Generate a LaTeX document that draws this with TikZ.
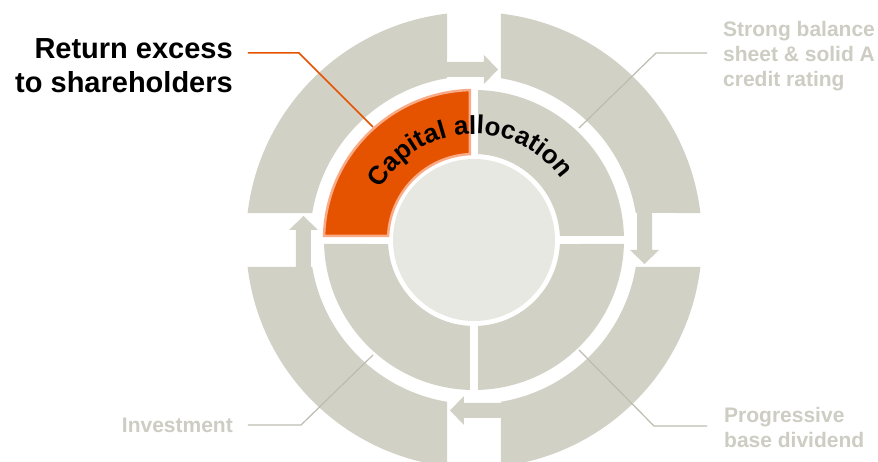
\documentclass[tikz,border=0pt]{standalone}
\usepackage{fontspec}
\setmainfont{Liberation Sans}
\usepackage{tikz}
\usetikzlibrary{decorations.text}
\definecolor{ringgray}{HTML}{D2D1C6}
\definecolor{labelgray}{HTML}{CDCDC3}
\definecolor{linegray}{HTML}{BDBCB1}
\definecolor{hubgray}{HTML}{E8E8E3}
\definecolor{caporange}{HTML}{E65300}
\definecolor{capedge}{HTML}{F8AB86}

\begin{document}
\begin{tikzpicture}[x=1pt, y=1pt, line join=miter]
      \tikzstyle{outer seg}=[fill=ringgray]
      \tikzstyle{inner seg}=[fill=ringgray]
      \tikzstyle{big label}=[inner sep=0pt, align=right, font=\fontsize{29}{34}\selectfont\bfseries]
      \tikzstyle{grey label}=[inner sep=0pt, align=left, text=labelgray, font=\fontsize{21}{25}\selectfont\bfseries]
      \tikzstyle{leader}=[draw=linegray, line width=1.2pt]
      \fill[white] (-474,-222) rectangle (404,240);
      \useasboundingbox (-474,-222) rectangle (404,240);
      \foreach \r in {0,-90,-180,-270}
        \fill[outer seg, rotate=\r] (173.2:228) arc[start angle=173.2, end angle=96.8, radius=228]
          -- (-27,178) -- (10,178) -- (10,185) -- (24,170.5) -- (10,156) -- (10,163) -- (-27,163)
          -- (99.47:164) arc[start angle=99.47, end angle=170.53, radius=164] -- cycle;
      \foreach \r in {-90,-180,-270}
        \fill[inner seg, rotate=\r] (91.53:150) arc[start angle=91.53, end angle=178.47, radius=150]
          -- (177.33:86) arc[start angle=177.33, end angle=92.67, radius=86] -- cycle;
      \draw[fill=caporange, draw=capedge, line width=2.5pt] (91.53:150) arc[start angle=91.53, end angle=178.47, radius=150]
          -- (177.33:86) arc[start angle=177.33, end angle=92.67, radius=86] -- cycle;
      \fill[hubgray] (0,0) circle (81);
      \path[decorate, decoration={text along path, text align=center,
          text={|\fontsize{26}{26}\selectfont\bfseries|Capital allocation}}]
          (165:106) arc[start angle=165, end angle=21, radius=106];
      \node[big label, anchor=north east] (ret) at (-241,202) {Return excess\\to shareholders};
      \node[grey label, anchor=north west] (bal) at (249,219) {Strong balance\\sheet \& solid A\\credit rating};
      \node[grey label, anchor=north west] (prog) at (250,-167) {Progressive\\base dividend};
      \node[grey label, anchor=base east] (inv) at (-241,-193) {Investment};
      \coordinate (ret end) at (-101,113);
      \coordinate (bal end) at (105,112);
      \coordinate (prog end) at (105,-110);
      \coordinate (inv end) at (-101,-115);
      \draw[leader, draw=caporange, line width=1.5pt] ([shift={(15,-15)}]ret.north east) -- ++(51,0) -- (ret end);
      \draw[leader] ([shift={(-16,-32)}]bal.north west) -- ++(-51,0) -- (bal end);
      \draw[leader] ([shift={(-17,-19)}]prog.north west) -- ++(-53,0) -- (prog end);
      \draw[leader] ([shift={(15,8)}]inv.base east) -- ++(53,0) -- (inv end);
\end{tikzpicture}
\end{document}
